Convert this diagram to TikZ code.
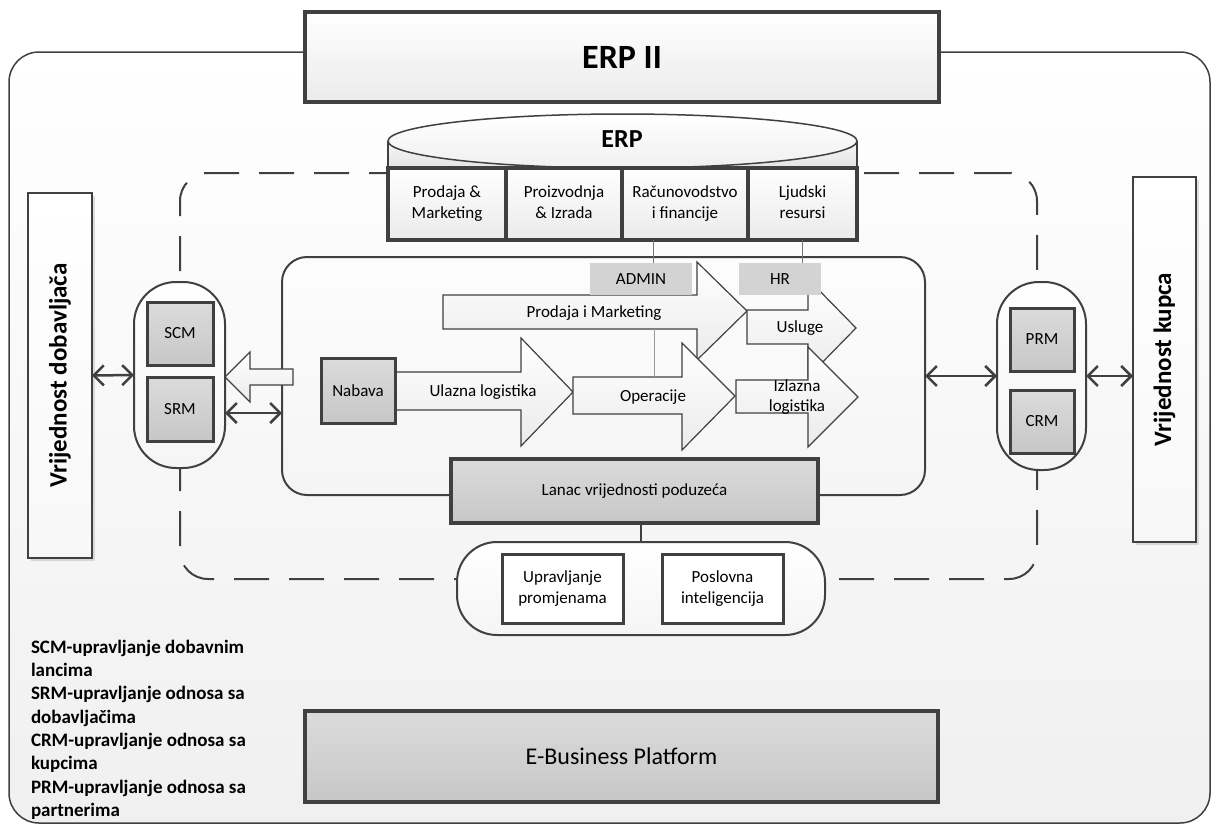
\documentclass[tikz,border=0pt]{standalone}
\usepackage{fontspec}
\setmainfont{Carlito}
\usetikzlibrary{arrows.meta,shadows}
\definecolor{dline}{HTML}{404040}
\definecolor{admgray}{HTML}{D3D3D3}
\begin{document}
\begin{tikzpicture}[x=1pt,y=-1pt,
  every node/.style={inner sep=0pt,outer sep=0pt},
  lbl/.style={font=\fontsize{17}{21}\selectfont, align=center},
  erpbox/.style={rectangle, draw=dline, line width=4pt, top color=white, bottom color=black!8, minimum height=72pt, lbl},
  graybox/.style={rectangle, draw=dline, line width=3pt, top color=black!14, bottom color=black!22, lbl},
  whitebox/.style={rectangle, draw=dline, line width=3pt, fill=white, lbl},
  pillbox/.style={rectangle, draw=dline, line width=2pt, top color=white, bottom color=black!4},
  vbox/.style={rectangle, draw=dline, line width=1.5pt, top color=white, bottom color=black!3,
     drop shadow={shadow xshift=3pt, shadow yshift=-3pt, opacity=0.25}},
  tagbox/.style={rectangle, fill=admgray, lbl},
  blockarrow/.style={draw=dline, line width=1.2pt, top color=white, bottom color=black!8, line join=miter},
  dbl/.style={draw=dline, line width=2.5pt, arrows={Straight Barb[length=10pt,width=20pt]-Straight Barb[length=10pt,width=20pt]}},
  thinline/.style={draw=black!55, line width=1pt}
]
\useasboundingbox (0,0) rectangle (1211,825);
\fill[white] (0,0) rectangle (1211,825);

% outer frame
\node[draw=dline, line width=1.5pt, rounded corners=30pt, minimum width=1201pt, minimum height=771pt,
      top color=white, bottom color=black!6] (outer) at (609.5,437.5) {};

% ERP II title
\node[rectangle, draw=dline, line width=4pt, top color=white, bottom color=black!8,
      minimum width=634pt, minimum height=90pt, font=\fontsize{34}{40}\selectfont\bfseries,
      drop shadow={shadow xshift=2pt, shadow yshift=-2pt, opacity=0.2}] (erpii) at (622,57) {ERP II};

% dashed boundary
\node[draw=dline, line width=2pt, dash pattern=on 35pt off 20pt, rounded corners=28pt,
      minimum width=857pt, minimum height=406pt] (dashbox) at (608.5,376) {};

% ERP cylinder
\path[top color=black!3, bottom color=black!12] (388,141) rectangle (857,172);
\draw[dline, line width=1.5pt] (388,141) -- (388,172) (857,141) -- (857,172);
\draw[dline, line width=1.5pt, top color=white, bottom color=black!6] (622.5,141) ellipse [x radius=234.5pt, y radius=27pt];
\node[font=\fontsize{26}{30}\selectfont\bfseries] (erp) at (622,139) {ERP};

% ERP modules
\node[erpbox, minimum width=118pt] (pm) at (447,204) {Prodaja \&\strut\\Marketing\strut};
\node[erpbox, minimum width=116pt] (pi) at (564,204) {Proizvodnja\strut\\\& Izrada\strut};
\node[erpbox, minimum width=126pt] (rf) at (685,204) {Računovodstvo\strut\\i financije\strut};
\node[erpbox, minimum width=109pt] (lr) at (802.5,204) {Ljudski\strut\\resursi\strut};

% inner value-chain frame
\node[draw=dline, line width=2pt, rounded corners=25pt, minimum width=643pt, minimum height=238pt,
      top color=black!1, bottom color=black!4] (inner) at (603.5,376) {};

% block arrows
\draw[blockarrow] (443,295) -- (697,295) -- (697,262) -- (747,311) -- (697,360) -- (697,329) -- (443,329) -- cycle;
\draw[blockarrow] (747,310) -- (808,310) -- (808,279) -- (856,328) -- (808,377) -- (808,344) -- (747,344) -- cycle;
\draw[blockarrow] (395,372) -- (521,372) -- (521,338) -- (573,392) -- (521,446) -- (521,410) -- (395,410) -- cycle;
\draw[blockarrow] (573,377) -- (682,377) -- (682,343) -- (735,396) -- (682,450) -- (682,414) -- (573,414) -- cycle;
\draw[blockarrow] (736,380) -- (808,380) -- (808,347) -- (858,397) -- (808,447) -- (808,413) -- (736,413) -- cycle;

\node[lbl] (tprod) at (594,313) {Prodaja i Marketing};
\node[lbl] (tusl) at (800,328) {Usluge};
\node[lbl] (tul) at (483,392) {Ulazna logistika};
\node[lbl] (tope) at (653,397) {Operacije};
\node[lbl, font=\fontsize{17}{20}\selectfont] (tizl) at (797,397) {Izlazna\strut\\logistika\strut};

% ADMIN / HR tags
\node[tagbox, minimum width=102pt, minimum height=32pt] (admin) at (641,279) {ADMIN};
\node[tagbox, minimum width=82pt, minimum height=32pt] (hr) at (780,279) {HR};

% hollow arrow to SCM/SRM
\draw[blockarrow] (293,369) -- (250,369) -- (250,352) -- (225,377) -- (250,402) -- (250,385) -- (293,385) -- cycle;

% Nabava
\node[graybox, minimum width=74pt, minimum height=65pt] (nabava) at (358,390.5) {Nabava};

% Lanac vrijednosti
\node[graybox, line width=3.5pt, minimum width=367pt, minimum height=64pt] (lanac) at (634.5,491) {Lanac vrijednosti poduzeća};

% bottom pill
\node[pillbox, rounded corners=40pt, minimum width=368pt, minimum height=93pt] (bpill) at (641,588.5) {};
\node[whitebox, minimum width=121pt, minimum height=69pt] (upr) at (562.5,588.5) {Upravljanje\strut\\promjenama\strut};
\node[whitebox, minimum width=121pt, minimum height=69pt] (pos) at (722.5,588.5) {Poslovna\strut\\inteligencija\strut};

% left side
\node[vbox, minimum width=64pt, minimum height=365pt] (vd) at (60,375.5) {};
\node[rotate=90, font=\fontsize{25}{30}\selectfont\bfseries] (vdl) at (vd.center) {Vrijednost dobavljača};
\node[pillbox, rounded corners=42pt, minimum width=91pt, minimum height=186pt] (lpill) at (179.5,375) {};
\node[graybox, minimum width=66pt, minimum height=63pt] (scm) at (180,333.5) {SCM};
\node[graybox, minimum width=66pt, minimum height=64pt] (srm) at (180,409) {SRM};

% right side
\node[vbox, minimum width=63pt, minimum height=365pt] (vk) at (1164.5,359.5) {};
\node[rotate=90, font=\fontsize{25}{30}\selectfont\bfseries] (vkl) at (vk.center) {Vrijednost kupca};
\node[pillbox, rounded corners=42pt, minimum width=89pt, minimum height=188pt] (rpill) at (1041.5,376) {};
\node[graybox, minimum width=64pt, minimum height=63pt] (prm) at (1042,339.5) {PRM};
\node[graybox, minimum width=64pt, minimum height=63pt] (crm) at (1042,421.5) {CRM};

% E-Business Platform
\node[rectangle, draw=dline, line width=4pt, top color=black!14, bottom color=black!22,
      minimum width=633pt, minimum height=91pt, font=\fontsize{24}{28}\selectfont,
      drop shadow={shadow xshift=2pt, shadow yshift=-2pt, opacity=0.2}] (ebp) at (621.5,756.5) {E-Business Platform};

% legend
\node[anchor=north west, align=left, font=\fontsize{19}{23.3}\selectfont\bfseries] (legend) at (31,640)
  {SCM-upravljanje dobavnim\\lancima\\SRM-upravljanje odnosa sa\\dobavljačima\\CRM-upravljanje odnosa sa\\kupcima\\PRM-upravljanje odnosa sa\\partnerima};

% connectors
\coordinate (xa) at (653,0);
\coordinate (xb) at (654,0);
\coordinate (ya) at (0,329);
\coordinate (yb) at (0,377);
\coordinate (a2) at (0,413);
\draw[thinline] (rf.south -| xa) -- (admin.north -| xa);
\draw[thinline] (lr.south) -- (lr.south |- hr.north);
\draw[thinline, draw=black!40] (xb |- ya) -- (xb |- yb);
\draw[dline, line width=1.5pt] (bpill.north) -- (bpill.north |- lanac.south);

\draw[dbl] (vd.east) -- (lpill.west);
\draw[dbl] (lpill.east |- a2) -- (inner.west |- a2);
\draw[dbl] (inner.east) -- (rpill.west);
\draw[dbl] (rpill.east) -- (vk.west |- rpill.east);
\end{tikzpicture}
\end{document}
